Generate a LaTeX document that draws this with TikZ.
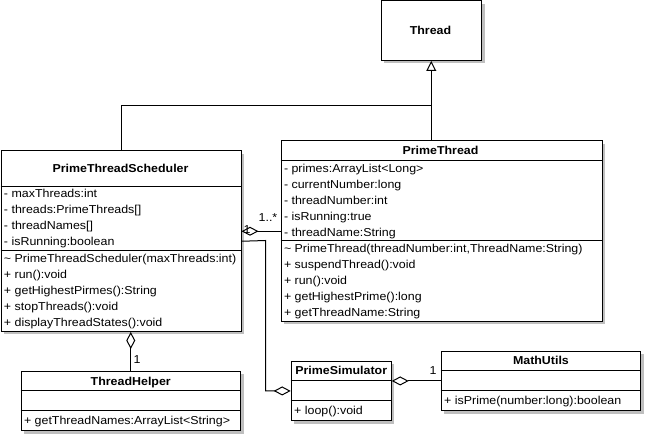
\documentclass[tikz,border=0pt]{standalone}
\usepackage{fontspec}
\setmainfont[FakeStretch=1.08]{Liberation Sans}
\usetikzlibrary{arrows.meta,shadows}
\begin{document}
\begin{tikzpicture}[x=1pt,y=-1pt,line width=1pt,
  every node/.style={font=\fontsize{11.5}{13}\selectfont},
  classbox/.style={draw,fill=white,inner sep=0,anchor=north west,
    drop shadow={shadow xshift=3pt,shadow yshift=-3pt,fill=black!25,opacity=1}},
  txt/.style={anchor=base west,inner sep=0},
  ctitle/.style={anchor=base,inner sep=0,font=\fontsize{11.5}{13}\selectfont\bfseries},
  mult/.style={anchor=base,inner sep=0},
  agg/.style={{Diamond[open,length=17pt,width=9pt,fill=white]}-},
  gen/.style={-{Triangle[open,length=10pt,width=10pt,fill=white]}}]
\useasboundingbox (0,0) rectangle (645,435);

% Thread
\node[classbox,minimum width=100.5pt,minimum height=59.5pt] (thread) at (380.5,0.5) {};
\node[ctitle] (threadt) at (430.5,34.7) {Thread};

% PrimeThreadScheduler
\node[classbox,minimum width=240pt,minimum height=180.5pt] (pts) at (0.5,150.5) {};
\draw ([yshift=-36pt]pts.north west) -- ([yshift=-36pt]pts.north east);
\draw ([yshift=-100pt]pts.north west) -- ([yshift=-100pt]pts.north east);
\node[ctitle] (ptst) at (120.5,172.3) {PrimeThreadScheduler};
\foreach \t [count=\i] in {- maxThreads:int,- threads:PrimeThreads[],- threadNames[],- isRunning:boolean}
  \node[txt] (ptsa\i) at (3.5,{198+16*(\i-1)}) {\t};
\foreach \t [count=\i] in {\textasciitilde{} PrimeThreadScheduler(maxThreads:int),+ run():void,+ getHighestPirmes():String,+ stopThreads():void,+ displayThreadStates():void}
  \node[txt] (ptsm\i) at (3.5,{262.3+16*(\i-1)}) {\t};

% PrimeThread
\node[classbox,minimum width=321pt,minimum height=180.5pt] (pt) at (280.5,140.5) {};
\draw ([yshift=-20pt]pt.north west) -- ([yshift=-20pt]pt.north east);
\draw ([yshift=-100pt]pt.north west) -- ([yshift=-100pt]pt.north east);
\node[ctitle] (ptt) at (440.5,154.7) {PrimeThread};
\foreach \t [count=\i] in {- primes:ArrayList<Long>,- currentNumber:long,- threadNumber:int,- isRunning:true,- threadName:String}
  \node[txt] (pta\i) at (283.5,{172.3+16*(\i-1)}) {\t};
\foreach \t [count=\i] in {{\textasciitilde{} PrimeThread(threadNumber:int,ThreadName:String)},+ suspendThread():void,+ run():void,+ getHighestPrime():long,+ getThreadName:String}
  \node[txt] (ptm\i) at (283.5,{252.3+16*(\i-1)}) {\t};

% ThreadHelper
\node[classbox,minimum width=219.5pt,minimum height=59.5pt] (th) at (20.5,370.7) {};
\draw ([yshift=-20pt]th.north west) -- ([yshift=-20pt]th.north east);
\draw ([yshift=-40pt]th.north west) -- ([yshift=-40pt]th.north east);
\node[ctitle] (tht) at (th.north |- 0,385) {ThreadHelper};
\node[txt] (thm1) at (23.5,424) {+ getThreadNames:ArrayList<String>};

% PrimeSimulator
\node[classbox,minimum width=100pt,minimum height=59.5pt] (ps) at (290.7,360.7) {};
\draw ([yshift=-20pt]ps.north west) -- ([yshift=-20pt]ps.north east);
\draw ([yshift=-40pt]ps.north west) -- ([yshift=-40pt]ps.north east);
\node[ctitle] (pst) at (ps.north |- 0,374.7) {PrimeSimulator};
\node[txt] (psm1) at (293.7,414) {+ loop():void};

% MathUtils
\node[classbox,minimum width=199.5pt,minimum height=59.5pt] (mu) at (440.7,350.7) {};
\draw ([yshift=-20pt]mu.north west) -- ([yshift=-20pt]mu.north east);
\draw ([yshift=-40pt]mu.north west) -- ([yshift=-40pt]mu.north east);
\node[ctitle] (mut) at (mu.north |- 0,364.7) {MathUtils};
\node[txt] (mum1) at (443.7,404.7) {+ isPrime(number:long):boolean};

% Generalizations
\coordinate (gj) at (430.5,105.5);
\draw (pts.north) |- (gj);
\draw[gen] (pt.north -| thread.south) -- (thread.south);

% Aggregations
\draw[agg] (pts.east |- pt.west) -- (pt.west);
\node[mult] (m1) at (268,222) {1..*};
\node[mult] (m2) at (247,234) {1};
\coordinate (b1) at (265.7,240.5);
\draw[agg] (ps.west) -| (b1) -- (pts.east);
\draw[agg] (th.north |- pts.south) -- (th.north);
\node[mult] (m3) at (137,363) {1};
\draw[agg] (ps.east |- mu.west) -- (mu.west);
\node[mult] (m4) at (433,374) {1};
\end{tikzpicture}
\end{document}
